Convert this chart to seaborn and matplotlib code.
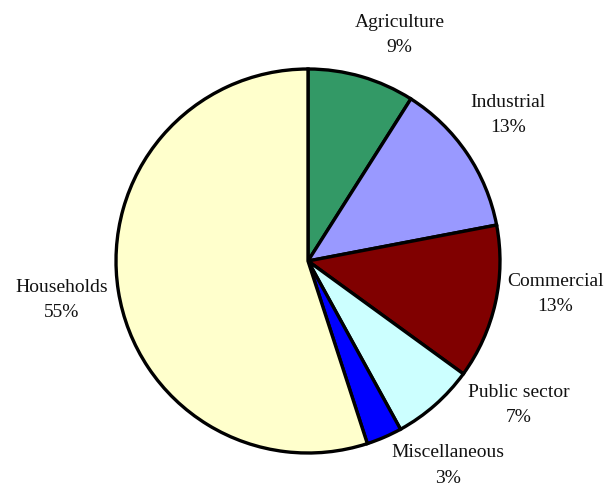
import numpy as np
import matplotlib
matplotlib.use("Agg")
import matplotlib.pyplot as plt
import seaborn as sns

# sector shares, clockwise from 12 o'clock
sectors = ["Agriculture", "Industrial", "Commercial", "Public sector", "Miscellaneous", "Households"]
shares = [9, 13, 13, 7, 3, 55]
colors = ["#339966", "#9999FF", "#800000", "#CCFFFF", "#0000FF", "#FFFFCC"]

# label placement tweaks (degrees off the wedge middle, radius in pie units)
label_nudge = [-5.9, 1.9, 5.0, 14.2, 10.9, 0.0]
label_radius = [1.27, 1.29, 1.30, 1.33, 1.29, 1.30]

sns.set_theme(style="white")
plt.rcParams["font.family"] = ["Liberation Serif", "DejaVu Serif"]

fig = plt.figure(figsize=(6.08, 4.87), dpi=100)
ax = fig.add_axes([0, 0, 1, 1])

wedges, _ = ax.pie(
    shares,
    colors=colors,
    startangle=90,
    counterclock=False,
    wedgeprops=dict(edgecolor="black", linewidth=2.4),
)

for w, name, val, dth, r in zip(wedges, sectors, shares, label_nudge, label_radius):
    mid = np.deg2rad((w.theta1 + w.theta2) / 2 + dth)
    ax.text(
        r * np.cos(mid), r * np.sin(mid),
        f"{name}\n{val}%",
        ha="center", va="center",
        fontsize=14, linespacing=1.65, color="#111111",
    )

# centre at (308, 261) px, radius 192 px
ax.set_xlim(-308 / 192, 300 / 192)
ax.set_ylim(-226 / 192, 261 / 192)
ax.set_aspect("equal", adjustable="datalim")
ax.axis("off")

fig.savefig("out.png", dpi=100)
